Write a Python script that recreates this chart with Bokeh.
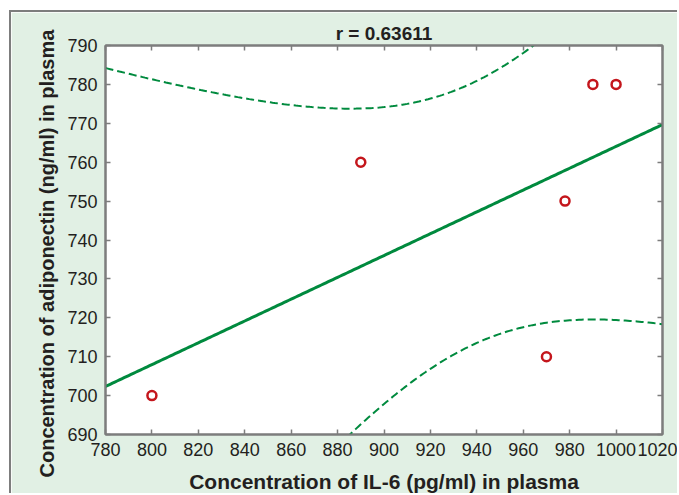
import numpy as np
from bokeh.plotting import figure
from bokeh.models import LinearAxis, Range1d, FixedTicker, Title
from bokeh.embed import file_html
from bokeh.resources import INLINE

# data
il6 = [800, 890, 970, 978, 990, 1000]
adiponectin = [700, 760, 710, 750, 780, 780]
x_ticks = [780, 800, 820, 840, 860, 880, 900, 920, 940, 960, 980, 1000, 1020]
y_ticks = [690, 700, 710, 720, 730, 740, 750, 760, 770, 780, 790]
title_text = "r = 0.63611"
x_label = "Concentration of IL-6 (pg/ml) in plasma"
y_label = "Concentration of adiponectin (ng/ml) in plasma"
t_crit = 2.776  # t(0.975, df=4)

# linear fit and 95% confidence band of the mean, from the data
x = np.array(il6, float)
y = np.array(adiponectin, float)
n = len(x)
xm, ym = x.mean(), y.mean()
sxx = ((x - xm) ** 2).sum()
sxy = ((x - xm) * (y - ym)).sum()
b = sxy / sxx
a = ym - b * xm
sse = ((y - (a + b * x)) ** 2).sum()
s = np.sqrt(sse / (n - 2))
xg = np.linspace(x_ticks[0], x_ticks[-1], 241)
yg = a + b * xg
hw = t_crit * s * np.sqrt(1.0 / n + (xg - xm) ** 2 / sxx)

BG = "#e1f0e4"
TXT = "#231f20"
GRAY = "#7d7d7d"
GREEN = "#008a3e"
RED = "#c4161c"

p = figure(width=668, height=483, output_backend="svg", toolbar_location=None,
           x_range=Range1d(780, 1020), y_range=Range1d(690, 790),
           min_border_left=94, min_border_right=17, min_border_top=33, min_border_bottom=56,
           background_fill_color="white", border_fill_color=BG,
           outline_line_color=GRAY, outline_line_width=2,
           margin=(10, 0, 0, 9),
           styles={"border-top": "2px solid #7d7d7d", "border-left": "2px solid #7d7d7d"})
p.grid.visible = False

p.title = Title(text=title_text, align="center", text_font="Liberation Sans",
                text_font_size="19px", text_font_style="bold", text_color=TXT,
                offset=0, standoff=3)

for ax in (p.xaxis[0], p.yaxis[0]):
    ax.major_tick_in = 5
    ax.major_tick_out = 0
    ax.minor_tick_in = 0
    ax.minor_tick_out = 0
    ax.axis_line_color = GRAY
    ax.axis_line_width = 2
    ax.major_tick_line_color = GRAY
    ax.major_tick_line_width = 1.5
    ax.major_label_text_font = "Liberation Sans"
    ax.major_label_text_font_size = "18px"
    ax.major_label_text_color = TXT
    ax.axis_label_text_font = "Liberation Sans"
    ax.axis_label_text_font_style = "bold"
    ax.axis_label_text_color = TXT

p.xaxis[0].axis_label_text_font_size = "21px"
p.xaxis[0].ticker = FixedTicker(ticks=x_ticks)
p.yaxis[0].ticker = FixedTicker(ticks=y_ticks)
p.xaxis[0].axis_label = x_label
p.xaxis[0].major_label_standoff = 8
p.yaxis[0].major_label_standoff = 8
p.xaxis[0].axis_label_standoff = 11

# y-axis title, starting a little below the frame bottom as in the reference
p.add_layout(Title(text=y_label, align="left", text_font="Liberation Sans",
                   text_font_size="20px", text_font_style="bold", text_color=TXT,
                   offset=-43, standoff=14), "left")

blank_x = {t: "" for t in x_ticks}
blank_y = {t: "" for t in y_ticks}
top = LinearAxis(ticker=FixedTicker(ticks=x_ticks), major_label_overrides=blank_x,
                 major_tick_in=5, major_tick_out=0, minor_tick_in=0, minor_tick_out=0,
                 axis_line_color=GRAY, axis_line_width=2, major_tick_line_color=GRAY,
                 major_tick_line_width=1.5, major_label_standoff=0)
right = LinearAxis(ticker=FixedTicker(ticks=y_ticks), major_label_overrides=blank_y,
                   major_tick_in=5, major_tick_out=0, minor_tick_in=0, minor_tick_out=0,
                   axis_line_color=GRAY, axis_line_width=2, major_tick_line_color=GRAY,
                   major_tick_line_width=1.5, major_label_standoff=0)
p.add_layout(top, "above")
p.add_layout(right, "right")

p.line(xg, yg, line_color=GREEN, line_width=3)
p.line(xg, yg + hw, line_color=GREEN, line_width=2, line_dash="8 4")
p.line(xg, yg - hw, line_color=GREEN, line_width=2, line_dash="8 4")

p.scatter(il6, adiponectin, marker="circle", size=9, fill_color="white",
          line_color=RED, line_width=2.5)

open("out.html", "w").write(file_html(p, INLINE))
